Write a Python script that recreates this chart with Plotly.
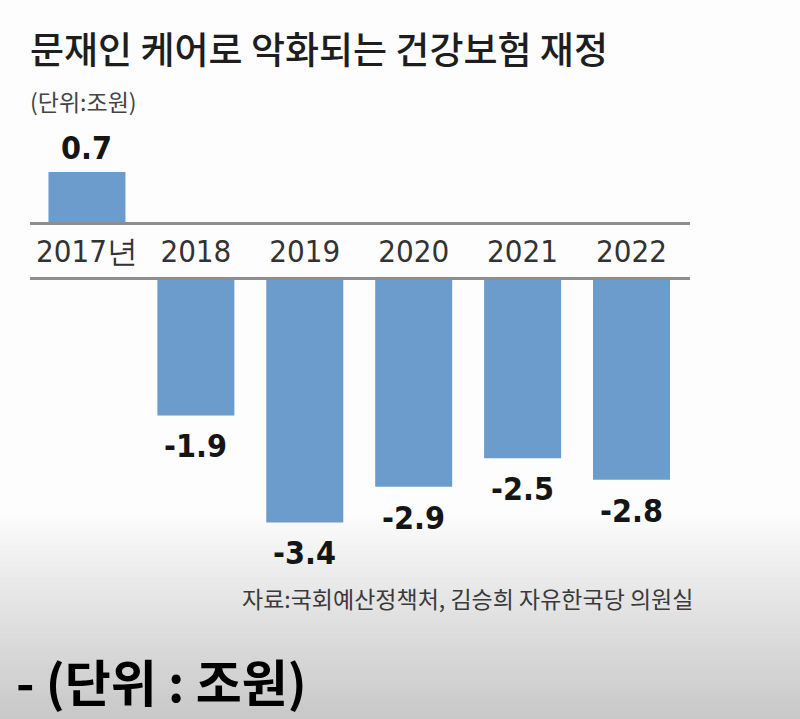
import plotly.graph_objects as go

# ---- data ----
years = ["2017년", "2018", "2019", "2020", "2021", "2022"]
balance = [0.7, -1.9, -3.4, -2.9, -2.5, -2.8]   # 조원
title_text = "문재인 케어로 악화되는 건강보험 재정"
unit_text = "(단위:조원)"
source_text = "자료:국회예산정책처, 김승희 자유한국당 의원실"
footer_text = "- (단위 : 조원)"

# ---- style ----
W, H = 800, 719
PX_PER_UNIT = 71.3
BAR_COLOR = "#6b9ccb"
AXIS_COLOR = "#8e8e8e"
KR_FONT = "Noto Sans CJK KR"
NUM_FONT = "DejaVu Sans Condensed, Liberation Sans Narrow, sans-serif"

def yfrac(px):
    return 1 - px / H

top_px = (100, 222)      # top panel (positive values), zero at 222
bot_px = (280, 640)      # bottom panel (negative values), zero at 280

x_idx = list(range(len(years)))
pos_vals = [v if v > 0 else None for v in balance]
neg_vals = [v if v < 0 else None for v in balance]

fig = go.Figure()
num_font = dict(family=NUM_FONT, size=32, color="#151515", weight="bold")

fig.add_trace(go.Bar(
    x=x_idx, y=pos_vals, marker=dict(color=BAR_COLOR, line=dict(width=0)),
    xaxis="x", yaxis="y", hoverinfo="skip",
))
fig.add_trace(go.Bar(
    x=x_idx, y=neg_vals, marker=dict(color=BAR_COLOR, line=dict(width=0)),
    xaxis="x2", yaxis="y2", hoverinfo="skip",
))

xrange = [-0.523, 5.537]
xdom = [30 / W, 690 / W]

fig.update_layout(
    width=W, height=H,
    margin=dict(l=0, r=0, t=0, b=0),
    paper_bgcolor="#fdfdfd", plot_bgcolor="rgba(0,0,0,0)",
    showlegend=False, bargap=0.293,
    xaxis=dict(domain=xdom, range=xrange, anchor="y",
               tickmode="array", tickvals=x_idx, ticktext=years,
               tickfont=dict(family=NUM_FONT, size=31, color="#333333"),
               ticks="", ticklabelstandoff=0,
               showline=True, linecolor=AXIS_COLOR, linewidth=2.5,
               showgrid=False, zeroline=False, fixedrange=True),
    yaxis=dict(domain=[yfrac(top_px[1]), yfrac(top_px[0])],
               range=[0, (top_px[1] - top_px[0]) / PX_PER_UNIT],
               visible=False, fixedrange=True),
    xaxis2=dict(domain=xdom, range=xrange, anchor="y2", side="top",
                showticklabels=False, ticks="",
                showline=True, linecolor=AXIS_COLOR, linewidth=2.5,
                showgrid=False, zeroline=False, fixedrange=True),
    yaxis2=dict(domain=[yfrac(bot_px[1]), yfrac(bot_px[0])],
                range=[-(bot_px[1] - bot_px[0]) / PX_PER_UNIT, 0],
                visible=False, fixedrange=True),
)

# background gradient (bottom of frame)
shapes = []
g0, g1 = 515, H
n = 40
for i in range(n):
    y0 = g0 + (g1 - g0) * i / n
    y1 = g0 + (g1 - g0) * (i + 1) / n + 0.5
    t = (i + 0.5) / n
    g = int(round(253 - 53 * t ** 0.9))
    shapes.append(dict(type="rect", xref="paper", yref="paper",
                       x0=0, x1=1, y0=yfrac(min(y1, H)), y1=yfrac(y0),
                       fillcolor=f"rgb({g},{g},{g})", line=dict(width=0),
                       layer="below"))
fig.update_layout(shapes=shapes)

annotations = [
    dict(text=title_text, x=28 / W, y=yfrac(48), xanchor="left", yanchor="middle",
         font=dict(family=KR_FONT, size=37, color="#1e1e1e", weight=500)),
    dict(text=unit_text, x=28 / W, y=yfrac(101), xanchor="left", yanchor="middle",
         font=dict(family=KR_FONT, size=23, color="#444444")),
    dict(text=source_text, x=240 / W, y=yfrac(598), xanchor="left", yanchor="middle",
         font=dict(family=KR_FONT, size=23, color="#3a3a3a")),
    dict(text=footer_text, x=14 / W, y=0, xanchor="left", yanchor="bottom", yshift=1,
         font=dict(family=KR_FONT, size=50, color="#000000", weight="bold")),
]
for a in annotations:
    a.update(xref="paper", yref="paper", showarrow=False)

# value labels, placed via the data axes
for i, v in enumerate(balance):
    if v > 0:
        annotations.append(dict(x=i, y=v, xref="x", yref="y", text=f"{v:.1f}",
                                yanchor="bottom", yshift=3, showarrow=False,
                                font=num_font))
    else:
        annotations.append(dict(x=i, y=v, xref="x2", yref="y2", text=f"{v:.1f}",
                                yanchor="top", yshift=-10, showarrow=False,
                                font=num_font))
fig.update_layout(annotations=annotations)

fig.write_html(
    "out.html",
    config={"displayModeBar": False},
    post_script="document.body.style.margin='0px';document.body.style.padding='0px';document.body.style.overflow='hidden';",
)
